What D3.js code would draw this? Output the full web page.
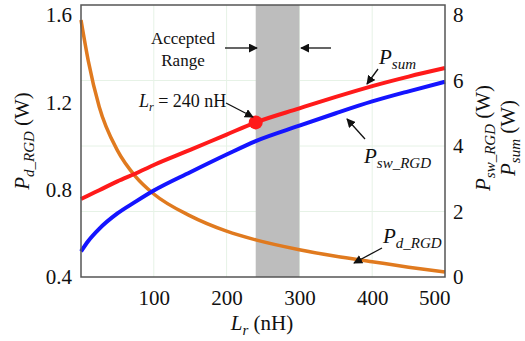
<!DOCTYPE html>
<html>
<head>
<meta charset="utf-8">
<script src="https://cdn.jsdelivr.net/npm/d3@7"></script>
<style>
  html, body { margin: 0; padding: 0; background: #fff; }
  svg { display: block; }
  svg text, svg tspan { font-family: "Liberation Serif", "DejaVu Serif", serif !important; fill: #111; }
</style>
</head>
<body>
<svg id="chart" width="525" height="341"></svg>
<script>
// Inductance sweep (nH)
const lr = [0, 10, 25, 50, 75, 100, 150, 200, 240, 300, 350, 400, 450, 500];
// Gate-resistor driver loss, left axis (W)
const pD = [1.577, 1.39, 1.18, 0.98, 0.86, 0.78, 0.68, 0.61, 0.57, 0.525, 0.495, 0.47, 0.445, 0.423];
// Switching loss, right axis (W)
const pSw = [0.78, 1.10, 1.47, 1.94, 2.30, 2.64, 3.20, 3.74, 4.15, 4.62, 5.00, 5.36, 5.67, 5.96];
// Total loss, right axis (W)
const pSum = [2.38, 2.49, 2.65, 2.92, 3.16, 3.42, 3.88, 4.35, 4.72, 5.15, 5.50, 5.83, 6.12, 6.38];

const xTicks = [100, 200, 300, 400, 500];
const leftTicks = [0.4, 0.8, 1.2, 1.6];
const rightTicks = [0, 2, 4, 6, 8];
const acceptedRange = [240, 300];
const chosenLr = 240;

const svg = d3.select("#chart");
const L = 81, R = 445, T = 5, B = 277;

const x = d3.scaleLinear().domain([0, 500]).range([L, R]);
const yL = d3.scaleLinear().domain([0.4, 1.6]).range([B, 15]);
const yR = d3.scaleLinear().domain([0, 8]).range([B, 15]);

// faint grid
const grid = svg.append("g").attr("stroke", "#e6f2e6").attr("stroke-width", 1);
xTicks.slice(0, -1).forEach(t => grid.append("line").attr("x1", x(t)).attr("x2", x(t)).attr("y1", T).attr("y2", B));
rightTicks.slice(1, -1).forEach(t => grid.append("line").attr("x1", L).attr("x2", R).attr("y1", yR(t)).attr("y2", yR(t)));

// accepted range band
svg.append("rect")
  .attr("x", x(acceptedRange[0])).attr("y", T)
  .attr("width", x(acceptedRange[1]) - x(acceptedRange[0]))
  .attr("height", B - T)
  .attr("fill", "#bdbdbd");

// axes (labels only)
const axB = svg.append("g").attr("transform", `translate(0,${B})`)
  .call(d3.axisBottom(x).tickValues(xTicks).tickSize(0).tickPadding(10).tickFormat(d3.format("d")));
const axL = svg.append("g").attr("transform", `translate(${L},0)`)
  .call(d3.axisLeft(yL).tickValues(leftTicks).tickSize(0).tickPadding(9).tickFormat(d3.format(".1f")));
const axR = svg.append("g").attr("transform", `translate(${R},0)`)
  .call(d3.axisRight(yR).tickValues(rightTicks).tickSize(0).tickPadding(8).tickFormat(d3.format("d")));
[axB, axL, axR].forEach(a => {
  a.attr("font-family", null).attr("font-size", null);
  a.select(".domain").remove();
  a.selectAll("text").style("font-size", "21px").attr("fill", "#111");
});
axB.selectAll("text").attr("dy", "0.85em");
// last bottom label sits inside the frame corner, clear of the right axis "0"
axB.selectAll("text").filter(d => d === 500).attr("text-anchor", "end").attr("x", 5);

// curves
const curve = d3.curveMonotoneX;
const lineL = d3.line().x((d, i) => x(lr[i])).y(d => yL(d)).curve(curve);
const lineR = d3.line().x((d, i) => x(lr[i])).y(d => yR(d)).curve(curve);
svg.append("path").attr("d", lineL(pD)).attr("fill", "none").attr("stroke", "#e07a1f").attr("stroke-width", 3.5);
svg.append("path").attr("d", lineR(pSw)).attr("fill", "none").attr("stroke", "#1414ff").attr("stroke-width", 4);
svg.append("path").attr("d", lineR(pSum)).attr("fill", "none").attr("stroke", "#ff1a1a").attr("stroke-width", 4);

// plot frame
svg.append("rect").attr("x", L).attr("y", T).attr("width", R - L).attr("height", B - T)
  .attr("fill", "none").attr("stroke", "#555").attr("stroke-width", 1.5);

// chosen design point
svg.append("circle").attr("cx", x(chosenLr)).attr("cy", yR(pSum[lr.indexOf(chosenLr)])).attr("r", 7).attr("fill", "#ff1a1a");

// arrow marker
svg.append("defs").append("marker")
  .attr("id", "ah").attr("viewBox", "0 0 10 10").attr("refX", 9).attr("refY", 5)
  .attr("markerWidth", 9).attr("markerHeight", 9).attr("markerUnits", "userSpaceOnUse").attr("orient", "auto")
  .append("path").attr("d", "M0,0 L10,5 L0,10 z").attr("fill", "#111");
function arrow(x1, y1, x2, y2) {
  svg.append("line").attr("x1", x1).attr("y1", y1).attr("x2", x2).attr("y2", y2)
    .attr("stroke", "#111").attr("stroke-width", 1.3).attr("marker-end", "url(#ah)");
}

// labels with subscripts
function subLabel(g, main, sub, opts = {}) {
  const t = g.append("text").style("font-size", (opts.size || 21) + "px");
  if (opts.anchor) t.attr("text-anchor", opts.anchor);
  t.append("tspan").style("font-style", "italic").text(main);
  t.append("tspan").style("font-style", "italic").style("font-size", (opts.subSize || 15) + "px").attr("dy", 5).text(sub);
  if (opts.tail) t.append("tspan").attr("dy", -5).text(opts.tail);
  return t;
}

// range annotation
svg.append("text").attr("x", 183).attr("y", 44).attr("text-anchor", "middle").style("font-size", "17px").text("Accepted");
svg.append("text").attr("x", 183).attr("y", 66).attr("text-anchor", "middle").style("font-size", "17px").text("Range");
arrow(225, 48, 257, 48);
arrow(331, 48, 301, 48);

// design point annotation
const lrLab = svg.append("text").attr("x", 139).attr("y", 107).style("font-size", "18px");
lrLab.append("tspan").style("font-style", "italic").text("L");
lrLab.append("tspan").style("font-style", "italic").style("font-size", "12px").attr("dy", 4).text("r");
lrLab.append("tspan").attr("dy", -4).text(" = 240 nH");
arrow(226, 103, 253, 117);

// curve labels
subLabel(svg.append("g").attr("transform", "translate(379,64)"), "P", "sum");
arrow(378, 69, 367, 84);
subLabel(svg.append("g").attr("transform", "translate(364,163)"), "P", "sw_RGD");
arrow(365, 139, 347, 119);
subLabel(svg.append("g").attr("transform", "translate(383,243)"), "P", "d_RGD");
arrow(382, 248, 354, 263);

// axis titles
const xt = svg.append("text").attr("x", 262).attr("y", 330).attr("text-anchor", "middle").style("font-size", "21px");
xt.append("tspan").style("font-style", "italic").text("L");
xt.append("tspan").style("font-style", "italic").style("font-size", "15px").attr("dy", 5).text("r");
xt.append("tspan").attr("dy", -5).text(" (nH)");

subLabel(svg.append("g").attr("transform", "translate(29,141) rotate(-90)"), "P", "d_RGD", { anchor: "middle", tail: " (W)" });
subLabel(svg.append("g").attr("transform", "translate(490,138) rotate(-90)"), "P", "sw_RGD", { anchor: "middle", tail: " (W)" });
subLabel(svg.append("g").attr("transform", "translate(515,138) rotate(-90)"), "P", "sum", { anchor: "middle", tail: " (W)" });
</script>
</body>
</html>
